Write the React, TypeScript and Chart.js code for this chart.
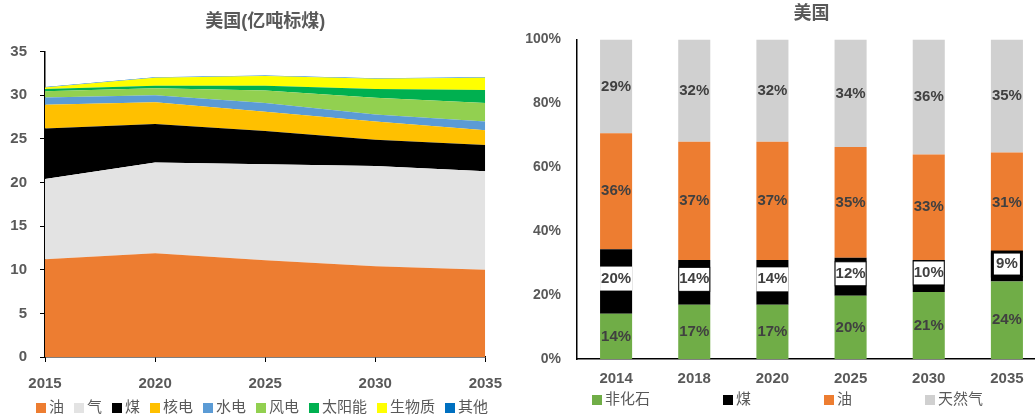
import React, { useEffect, useRef } from 'react';
import { Chart, registerables } from 'chart.js';

Chart.register(...registerables);

const FONT = "'Liberation Sans', Arial, 'Noto Sans CJK SC', sans-serif";
const GRAY = '#595959';
const LABEL_DARK = '#404040';

// ---------- Left chart data (亿吨标煤) ----------
const years = ['2015', '2020', '2025', '2030', '2035'];
const oil = [11.2, 11.9, 11.1, 10.4, 10.0];
const gas = [9.2, 10.4, 11.0, 11.5, 11.3];
const coal = [5.8, 4.4, 3.8, 3.0, 3.0];
const nuclear = [2.7, 2.5, 2.2, 2.1, 1.7];
const hydro = [0.85, 0.8, 1.0, 0.8, 1.0];
const wind = [0.7, 0.8, 1.45, 1.9, 2.1];
const solar = [0.25, 0.3, 0.55, 1.0, 1.5];
const biomass = [0.2, 0.9, 1.1, 1.2, 1.4];
const other = [0.05, 0.05, 0.05, 0.05, 0.05];
const leftLabels = ['油', '气', '煤', '核电', '水电', '风电', '太阳能', '生物质', '其他'];
const leftColors = ['#ED7D31', '#E3E3E3', '#000000', '#FFC000', '#5B9BD5', '#92D050', '#00B050', '#FFFF00', '#0070C0'];

// ---------- Right chart data (%) ----------
const periods = ['2014', '2018', '2020', '2025', '2030', '2035'];
const nonFossilShare = [14, 17, 17, 20, 21, 24];
const coalShare = [20, 14, 14, 12, 10, 9];
const oilShare = [36, 37, 37, 35, 33, 31];
const gasShare = [29, 32, 32, 34, 36, 35];
const rightLabels = ['非化石', '煤', '油', '天然气'];
const rightColors = ['#70AD47', '#000000', '#ED7D31', '#D0D0D0'];
const coalBoxBorder = [0, 1, 0, 1, 1, 3];

function customLegend(x0: number, y: number, gap: number, pad: number, size: number) {
  return {
    id: 'customLegend',
    afterDraw(chart: any) {
      const ctx = chart.ctx;
      ctx.save();
      ctx.font = `${size}px ${FONT}`;
      ctx.textBaseline = 'middle';
      ctx.textAlign = 'left';
      let x = x0;
      chart.data.datasets.forEach((ds: any) => {
        ctx.fillStyle = ds.backgroundColor;
        ctx.fillRect(x, y - 5, 10, 10);
        x += 10 + gap;
        ctx.fillStyle = GRAY;
        ctx.fillText(ds.label, x, y);
        x += ctx.measureText(ds.label).width + pad;
      });
      ctx.restore();
    },
  };
}

function LeftChart() {
  const ref = useRef<HTMLCanvasElement>(null);
  useEffect(() => {
    const series = [oil, gas, coal, nuclear, hydro, wind, solar, biomass, other];
    const chart = new Chart(ref.current as HTMLCanvasElement, {
      type: 'line',
      data: {
        labels: years,
        datasets: series.map((d, i) => ({
          label: leftLabels[i],
          data: d,
          backgroundColor: leftColors[i],
          borderColor: leftColors[i],
          borderWidth: 0,
          pointRadius: 0,
          tension: 0,
          fill: i === 0 ? 'origin' : '-1',
        })),
      },
      options: {
        responsive: false,
        animation: false,
        layout: { padding: { left: 0, right: 0, top: 0, bottom: 25 } },
        plugins: {
          title: {
            display: true,
            fullSize: false,
            text: '美国(亿吨标煤)',
            color: GRAY,
            font: { family: FONT, size: 18, weight: 'bold' },
            padding: { top: 11, bottom: 19 },
          },
          legend: { display: false },
          tooltip: { enabled: false },
        },
        scales: {
          x: {
            type: 'category',
            offset: false,
            grid: { drawOnChartArea: false, drawTicks: true, tickLength: 5, color: '#000' },
            border: { color: '#000', width: 1.5 },
            ticks: { color: GRAY, font: { family: FONT, size: 15, weight: 'bold' }, padding: 13, maxRotation: 0 },
            afterFit: (s: any) => { s.height = 36; },
          },
          y: {
            stacked: true,
            min: 0,
            max: 35,
            grid: { drawOnChartArea: false, drawTicks: true, tickLength: 5, color: '#000' },
            border: { color: '#000', width: 1.5 },
            ticks: { stepSize: 5, color: GRAY, font: { family: FONT, size: 15, weight: 'bold' }, padding: 13 },
            afterFit: (s: any) => { s.width = 45; },
          },
        },
      },
      plugins: [customLegend(36, 408, 3, 10, 15)],
    } as any);
    return () => chart.destroy();
  }, []);
  return <canvas ref={ref} width={515} height={418} style={{ display: 'block' }} />;
}

function RightChart() {
  const ref = useRef<HTMLCanvasElement>(null);
  useEffect(() => {
    const raw = [nonFossilShare, coalShare, oilShare, gasShare];
    const totals = periods.map((_, i) => raw.reduce((a, r) => a + r[i], 0));
    const labelPlugin = {
      id: 'barLabels',
      afterDatasetsDraw(chart: any) {
        const ctx = chart.ctx;
        ctx.save();
        ctx.font = `bold 15px ${FONT}`;
        ctx.textAlign = 'center';
        ctx.textBaseline = 'middle';
        chart.data.datasets.forEach((_: any, di: number) => {
          const meta = chart.getDatasetMeta(di);
          meta.data.forEach((el: any, i: number) => {
            const { x, y, base, width } = el.getProps(['x', 'y', 'base', 'width'], true);
            let cy = (y + base) / 2;
            const text = raw[di][i] + '%';
            if (di === 1) {
              const h = 24;
              cy = cy - 3;
              ctx.fillStyle = '#ffffff';
              ctx.fillRect(x - width / 2, cy - h / 2, width, h);
              const bw = coalBoxBorder[i];
              if (bw) {
                ctx.lineWidth = bw;
                ctx.strokeStyle = '#000';
                ctx.strokeRect(x - width / 2 + bw / 2, cy - h / 2, width - bw, h);
              }
            }
            ctx.fillStyle = LABEL_DARK;
            ctx.fillText(text, x, cy);
          });
        });
        ctx.restore();
      },
    };
    const chart = new Chart(ref.current as HTMLCanvasElement, {
      type: 'bar',
      data: {
        labels: periods,
        datasets: raw.map((d, di) => ({
          label: rightLabels[di],
          data: d.map((v, i) => (v / totals[i]) * 100),
          backgroundColor: rightColors[di],
          borderWidth: 0,
          barPercentage: 0.41,
          categoryPercentage: 1,
        })),
      },
      options: {
        responsive: false,
        animation: false,
        layout: { padding: { left: 0, right: 9, top: 0, bottom: 28 } },
        plugins: {
          title: {
            display: true,
            fullSize: false,
            text: '美国',
            color: GRAY,
            font: { family: FONT, size: 18, weight: 'bold' },
            padding: { top: 3, bottom: 15 },
          },
          legend: { display: false },
          tooltip: { enabled: false },
        },
        scales: {
          x: {
            stacked: true,
            grid: { display: false, drawTicks: false, tickLength: 0 },
            border: { color: '#000', width: 1.5 },
            ticks: { color: GRAY, font: { family: FONT, size: 15, weight: 'bold' }, padding: 11, maxRotation: 0 },
            afterFit: (s: any) => { s.height = 31; },
          },
          y: {
            stacked: true,
            min: 0,
            max: 100,
            grid: { display: false, drawTicks: false, tickLength: 0 },
            border: { color: '#000', width: 1.5 },
            ticks: {
              stepSize: 20,
              color: GRAY,
              font: { family: FONT, size: 14, weight: 'bold' },
              padding: 16,
              callback: (v: any) => v + '%',
            },
            afterFit: (s: any) => { s.width = 72; },
          },
        },
      },
      plugins: [labelPlugin, customLegend(87, 400, 3, 73, 15)],
    } as any);
    return () => chart.destroy();
  }, []);
  return <canvas ref={ref} width={550} height={418} style={{ display: 'block' }} />;
}

export default function App() {
  return (
    <div style={{ position: 'absolute', left: 0, top: 0, width: 1035, height: 418, overflow: 'hidden', background: '#fff' }}>
      <div style={{ position: 'absolute', left: 0, top: 0 }}>
        <LeftChart />
      </div>
      <div style={{ position: 'absolute', left: 505, top: 0 }}>
        <RightChart />
      </div>
    </div>
  );
}
